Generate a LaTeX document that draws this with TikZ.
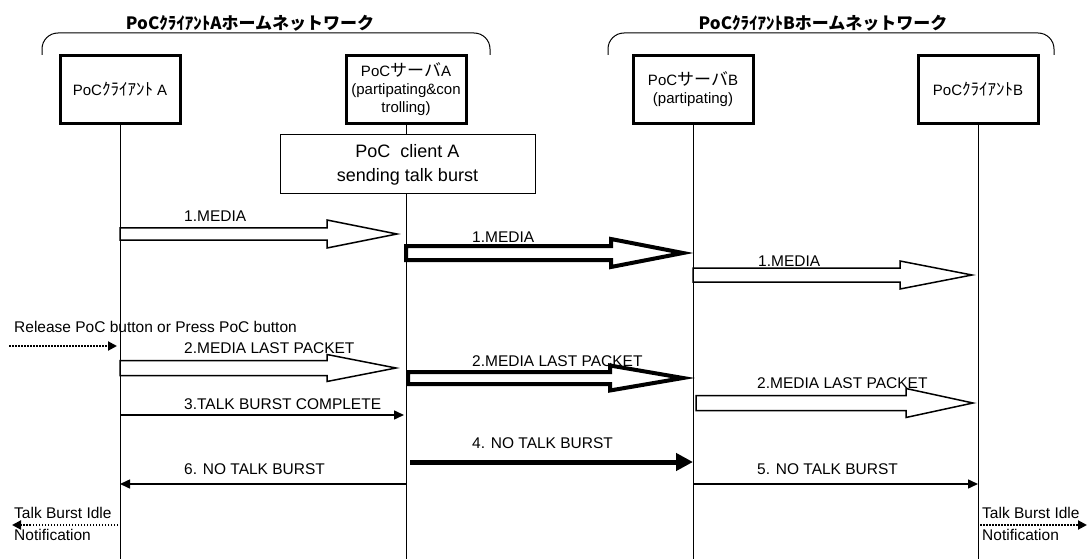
\documentclass[tikz,border=0pt]{standalone}
\usepackage{fontspec}
\setmainfont{Liberation Sans}
\newfontfamily\jpfont{Noto Sans CJK JP}
\newcommand{\kana}[1]{{\jpfont\fontsize{17}{18}\selectfont #1}}
\usetikzlibrary{arrows.meta,positioning,calc}

% hollow block arrow: style, from, to, body half, head half, head length
\newcommand{\blockarr}[6]{%
  \draw[#1] ($(#2)+(0,-#4)$) -- ($(#3)+(-#6,-#4)$) -- ($(#3)+(-#6,-#5)$)
    -- (#3) -- ($(#3)+(-#6,#5)$) -- ($(#3)+(-#6,#4)$) -- ($(#2)+(0,#4)$) -- cycle;}

\begin{document}
\begin{tikzpicture}[x=1pt, y=-1pt, font=\fontsize{15.5}{18}\selectfont,
    entity/.style={draw, line width=3pt, minimum width=120pt, minimum height=68pt,
      align=center, inner sep=1pt, font=\fontsize{15}{18}\selectfont},
    note/.style={draw, fill=white, line width=1pt, minimum width=255pt,
      minimum height=59pt, align=center, font=\fontsize{18}{24}\selectfont},
    nettitle/.style={font=\jpfont\bfseries\fontsize{17}{20}\selectfont},
    net/.style={line width=1pt, rounded corners=16pt},
    lifeline/.style={line width=1pt},
    media/.style={fill=white, line width=1.5pt},
    bigmedia/.style={fill=white, line width=4pt},
    msg/.style={line width=1.5pt, -{Triangle[length=10pt,width=9pt]}},
    bigmsg/.style={line width=5pt, -{Triangle[length=17pt,width=17pt]}},
    trigger/.style={line width=2pt, dash pattern=on 1.5pt off 1.5pt,
      -{Triangle[length=9pt,width=9pt]}},
    lbl/.style={anchor=west, inner sep=0pt}]
\useasboundingbox (0,0) rectangle (1088,559);
\coordinate (bot) at (0,559);

% home networks
\node[nettitle] (netA) at (250,23) {PoCｸﾗｲｱﾝﾄAホームネットワーク};
\node[nettitle] (netB) at (823,23) {PoCｸﾗｲｱﾝﾄBホームネットワーク};
\draw[net] (42,55) -- (42,33) -- (490,33) -- (490,55);
\draw[net] (608,55) -- (608,33) -- (1054,33) -- (1054,55);

% entities
\node[entity] (ca) at (120,89.5) {PoC\kana{ｸﾗｲｱﾝﾄ} A};
\node[entity] (sa) at (406,89.5) {PoC\kana{サーバ}A\\(partipating\&con\\trolling)};
\node[entity] (sb) at (693,89.5) {PoC\kana{サーバ}B\\(partipating)};
\node[entity] (cb) at (978,89.5) {PoC\kana{ｸﾗｲｱﾝﾄ}B};

% lifelines
\draw[lifeline] (ca.south) -- (ca.south |- bot);
\draw[lifeline] (sa.south) -- (sa.south |- bot);
\draw[lifeline] (sb.south) -- (sb.south |- bot);
\draw[lifeline] (cb.south) -- (cb.south |- bot);

\node[note] (burst) at (407.5,164.5) {PoC\ \ client A\\sending talk burst};

% media
\coordinate (m1a) at (120,234);
\coordinate (m1b) at (397,234);
\coordinate (m2a) at (406,253);
\coordinate (m2b) at (683,253);
\coordinate (m3a) at (693,275);
\coordinate (m3b) at (972,275);
\blockarr{media}{m1a}{m1b}{6}{14}{70}
\blockarr{bigmedia}{m2a}{m2b}{7}{14}{72}
\blockarr{media}{m3a}{m3b}{7}{14}{72}
\node[lbl] (l1) at (184,216) {1.MEDIA};
\node[lbl] (l2) at (472,237) {1.MEDIA};
\node[lbl] (l3) at (758,261) {1.MEDIA};

% release
\coordinate (rel) at (9,346);
\coordinate (relend) at (117,346);
\node[lbl] (reltext) at (14,327) {Release PoC button or Press PoC button};
\draw[trigger] (rel) -- (relend);

% last packet
\coordinate (m4a) at (120,368);
\coordinate (m4b) at (396,368);
\coordinate (m5a) at (408,378);
\coordinate (m5b) at (683,378);
\coordinate (m6a) at (696,403);
\coordinate (m6b) at (973,403);
\blockarr{media}{m4a}{m4b}{7.5}{13.5}{69}
\blockarr{bigmedia}{m5a}{m5b}{6}{12.5}{73}
\blockarr{media}{m6a}{m6b}{7.5}{14.5}{67}
\node[lbl] (l4) at (184,348) {2.MEDIA LAST PACKET};
\node[lbl] (l5) at (472,361) {2.MEDIA LAST PACKET};
\node[lbl] (l6) at (757,383) {2.MEDIA LAST PACKET};

% talk burst
\coordinate (m7a) at (120,415);
\coordinate (m7b) at (404,415);
\coordinate (m8a) at (410,462);
\coordinate (m8b) at (693,462);
\coordinate (m9a) at (406,484);
\coordinate (m9b) at (120,484);
\coordinate (m10a) at (693,484);
\coordinate (m10b) at (978,484);
\draw[msg] (m7a) -- (m7b);
\draw[bigmsg] (m8a) -- (m8b);
\draw[msg] (m9a) -- (m9b);
\draw[msg] (m10a) -- (m10b);
\node[lbl] (l7) at (184,404) {3.TALK BURST COMPLETE};
\node[lbl] (l8) at (472,443) {4. NO TALK BURST};
\node[lbl] (l9) at (184,469) {6. NO TALK BURST};
\node[lbl] (l10) at (757,469) {5. NO TALK BURST};

% idle notification
\coordinate (idleA) at (118,525);
\coordinate (idleAend) at (12,525);
\coordinate (idleB) at (980,525);
\coordinate (idleBend) at (1087,525);
\draw[trigger] (idleA) -- (idleAend);
\draw[trigger] (idleB) -- (idleBend);
\node[lbl, align=left, font=\fontsize{15.5}{22}\selectfont] (idletA) at (14,524) {Talk Burst Idle\\Notification};
\node[lbl, align=left, font=\fontsize{15.5}{22}\selectfont] (idletB) at (982,524) {Talk Burst Idle\\Notification};
\end{tikzpicture}
\end{document}
